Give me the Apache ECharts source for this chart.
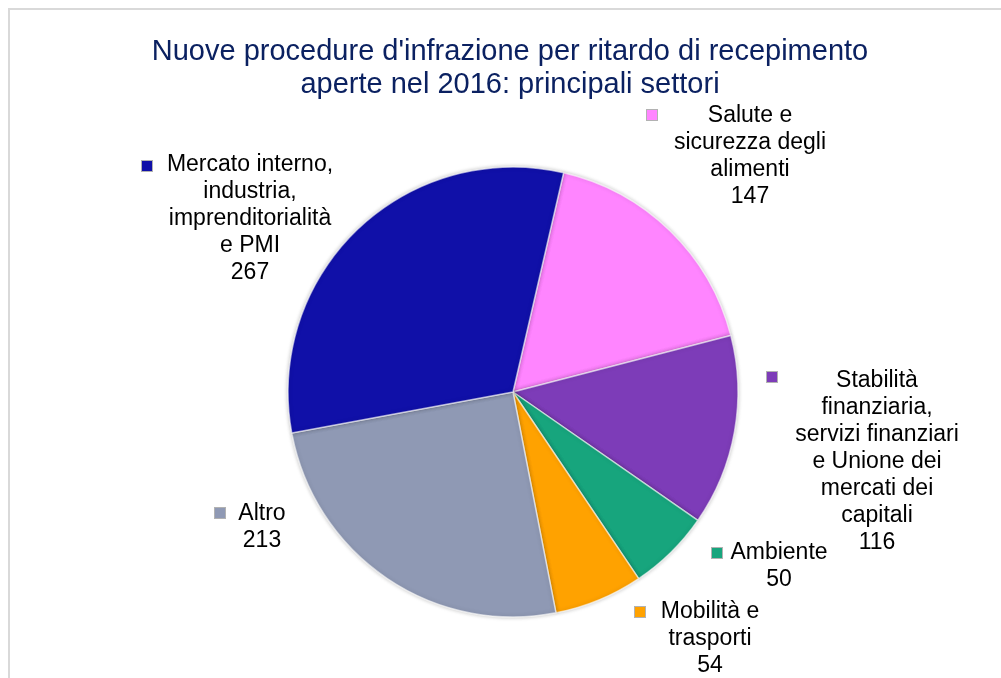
<!DOCTYPE html>
<html>
<head>
<meta charset="utf-8">
<script src="https://cdn.jsdelivr.net/npm/echarts@6/dist/echarts.min.js"></script>
<style>
html,body{margin:0;padding:0;background:#fff;}
#frame{position:absolute;left:8px;top:8px;width:993px;height:670px;border-left:2px solid #d9d9d9;border-top:2px solid #d9d9d9;box-sizing:border-box;}
#chart{position:absolute;left:0;top:0;width:1001px;height:678px;}
</style>
</head>
<body>
<div id="frame"></div>
<div id="chart"></div>
<script>
// dati del grafico
var settori = ['Salute e\nsicurezza degli\nalimenti', 'Stabilità\nfinanziaria,\nservizi finanziari\ne Unione dei\nmercati dei\ncapitali', 'Ambiente', 'Mobilità e\ntrasporti', 'Altro', 'Mercato interno,\nindustria,\nimprenditorialità\ne PMI'];
var procedure = [147, 116, 50, 54, 213, 267];
var colori = ['#ff85ff', '#7d3cb8', '#17a57d', '#ffa200', '#8f99b4', '#1010a8'];

// posizione etichette (centro testo, y in alto) e quadratini
var posTesto = [[750, 102], [877, 367], [779, 539], [710, 598], [262, 500], [250, 151]];
var posQuadro = [[647, 110], [767, 372], [712, 548], [635, 607], [215, 508], [142, 161]];

var myChart = echarts.init(document.getElementById('chart'));

var datiTorta = settori.map(function(n, i){
	return {name: n, value: procedure[i], itemStyle: {color: colori[i]}};
});
var datiQuadri = settori.map(function(n, i){
	return {name: n, value: procedure[i], label: {backgroundColor: colori[i]}};
});

var option = {
	animation: false,
	title: {
		text: "Nuove procedure d'infrazione per ritardo di recepimento\naperte nel 2016: principali settori",
		left: 505,
		textAlign: 'center',
		top: 30,
		textStyle: {
			fontFamily: 'Liberation Sans',
			fontSize: 29,
			fontWeight: 'normal',
			color: '#0b2161',
			lineHeight: 33
		}
	},
	series: [
		{
			type: 'pie',
			center: [513, 392],
			radius: 225,
			startAngle: 77,
			clockwise: true,
			emphasis: {disabled: true},
			itemStyle: {
				borderColor: 'rgba(255,255,255,0.6)',
				borderWidth: 1.5,
				shadowColor: 'rgba(0,0,0,0.25)',
				shadowBlur: 4
			},
			label: {
				show: true,
				position: 'outside',
				formatter: '{b}\n{c}',
				fontFamily: 'Liberation Sans',
				fontSize: 23,
				lineHeight: 27,
				color: '#000',
				align: 'center'
			},
			labelLine: {show: false},
			labelLayout: function(p){
				var pos = posTesto[p.dataIndex];
				return {x: pos[0], y: pos[1], align: 'center', verticalAlign: 'top'};
			},
			data: datiTorta
		},
		{
			type: 'pie',
			center: [513, 392],
			radius: 225,
			startAngle: 77,
			silent: true,
			itemStyle: {color: 'transparent'},
			label: {
				show: true,
				position: 'outside',
				formatter: '{s|}',
				borderColor: 'rgba(0,0,0,0.3)',
				borderWidth: 1,
				rich: {s: {width: 10, height: 10}}
			},
			labelLine: {show: false},
			labelLayout: function(p){
				var pos = posQuadro[p.dataIndex];
				return {x: pos[0], y: pos[1], align: 'left', verticalAlign: 'top'};
			},
			data: datiQuadri
		}
	]
};
myChart.setOption(option);
</script>
</body>
</html>
